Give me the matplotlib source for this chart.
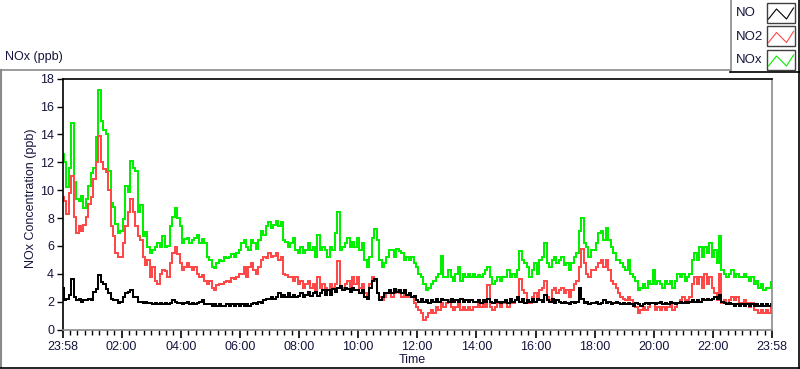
import matplotlib
matplotlib.use('Agg')
import matplotlib.pyplot as plt
from matplotlib.lines import Line2D
from matplotlib.patches import Rectangle
import numpy as np

plt.rcParams['font.family'] = ['Liberation Sans', 'DejaVu Sans']

# readings every 5 minutes from 23:58, one row per hour (ppb)
nox = [
    12.6, 12.0, 10.2, 11.6, 14.8, 10.6, 9.4, 9.2, 9.6, 8.7, 9.4, 10.3,
    11.2, 11.6, 13.8, 17.2, 15.0, 14.3, 14.0, 11.4, 9.1, 8.8, 7.6, 6.9,
    7.1, 7.9, 10.3, 9.9, 12.1, 11.6, 11.4, 8.4, 8.9, 6.7, 7.0, 5.9,
    5.5, 5.7, 5.9, 6.2, 5.9, 6.7, 5.9, 6.0, 7.4, 8.1, 8.7, 8.0,
    7.4, 6.2, 6.5, 6.6, 6.2, 6.4, 6.6, 6.8, 6.2, 6.5, 6.2, 5.2,
    5.0, 4.5, 4.4, 4.8, 5.0, 4.9, 5.2, 5.1, 5.2, 5.4, 5.2, 5.5,
    5.7, 6.2, 6.4, 5.9, 5.7, 6.4, 6.2, 5.8, 6.4, 7.1, 6.8, 7.4,
    7.7, 7.3, 7.5, 7.8, 7.4, 7.7, 6.4, 6.3, 5.9, 6.2, 6.6, 5.7,
    5.5, 5.9, 5.5, 5.7, 6.2, 5.7, 5.9, 5.2, 6.8, 5.7, 5.9, 5.7,
    5.2, 5.9, 5.7, 6.9, 8.4, 5.7, 5.9, 6.2, 6.6, 5.9, 6.3, 5.9,
    6.6, 5.7, 6.2, 5.0, 4.5, 5.2, 6.6, 7.2, 6.4, 5.0, 4.5, 4.8,
    5.2, 5.7, 5.7, 5.2, 5.8, 5.6, 5.5, 5.0, 5.2, 5.0, 5.2, 4.8,
    4.5, 4.0, 3.8, 3.3, 2.8, 3.0, 3.3, 3.5, 3.8, 4.0, 5.3, 3.8,
    3.8, 4.3, 3.8, 3.5, 4.0, 4.5, 3.5, 4.0, 3.8, 4.0, 3.8, 4.0,
    3.8, 3.9, 3.8, 4.0, 4.3, 4.5, 3.8, 3.3, 3.5, 3.8, 3.5, 3.8,
    3.8, 4.3, 3.8, 4.0, 3.8, 4.3, 5.6, 5.0, 4.8, 4.5, 3.8, 4.3,
    4.8, 4.0, 5.0, 5.2, 6.2, 4.8, 4.5, 5.0, 5.2, 4.8, 5.0, 5.2,
    4.6, 4.8, 4.3, 4.8, 5.2, 5.5, 7.1, 8.0, 6.2, 5.9, 5.2, 5.7,
    5.7, 6.2, 6.9, 7.1, 6.4, 7.3, 6.4, 5.9, 5.5, 5.0, 5.0, 4.8,
    4.5, 4.3, 5.0, 4.0, 3.8, 3.5, 2.8, 3.0, 3.3, 3.0, 3.5, 3.3,
    4.3, 3.3, 3.5, 3.3, 3.0, 3.5, 3.3, 3.5, 3.0, 3.5, 4.0, 3.8,
    4.0, 3.5, 3.8, 4.0, 5.0, 5.5, 5.0, 5.9, 5.2, 5.9, 5.5, 6.2,
    5.2, 5.7, 4.8, 6.7, 4.3, 4.0, 3.8, 4.0, 4.3, 3.8, 4.0, 3.8,
    3.8, 4.0, 3.8, 3.5, 3.8, 3.3, 3.5, 3.0, 3.3, 2.8, 3.0, 3.0,
    3.4,
]

no2 = [
    9.5, 9.2, 8.3, 9.8, 11.0, 8.1, 6.9, 7.4, 7.1, 7.5, 8.1, 9.0,
    9.5, 10.8, 12.0, 13.9, 12.0, 11.5, 11.3, 10.0, 7.4, 6.7, 5.5, 5.2,
    5.2, 6.2, 7.4, 8.4, 9.4, 8.4, 7.4, 6.7, 6.4, 5.2, 4.6, 5.0,
    3.8, 4.5, 3.5, 3.3, 4.0, 4.3, 4.2, 3.8, 4.8, 5.5, 5.9, 5.4,
    4.8, 4.3, 4.5, 4.8, 4.5, 4.3, 4.5, 4.0, 3.8, 3.9, 3.5, 3.3,
    3.5, 3.0, 2.8, 3.2, 3.3, 3.3, 3.4, 3.5, 3.4, 3.7, 3.6, 3.8,
    4.0, 4.0, 4.5, 3.8, 4.5, 4.8, 4.3, 4.0, 4.5, 5.0, 5.2, 5.1,
    5.5, 5.2, 5.3, 5.5, 5.0, 5.2, 4.0, 3.9, 3.8, 3.8, 3.5, 3.8,
    3.3, 3.5, 3.0, 3.3, 3.5, 3.0, 3.3, 2.8, 3.8, 3.0, 3.3, 3.0,
    2.8, 3.3, 3.0, 3.3, 4.9, 3.0, 3.0, 3.3, 3.5, 3.0, 3.8, 3.3,
    3.8, 3.0, 3.3, 2.6, 2.3, 3.3, 3.8, 3.5, 2.6, 2.3, 2.1, 2.3,
    2.6, 2.8, 2.3, 2.6, 2.8, 2.6, 2.3, 2.6, 2.3, 2.6, 2.3, 1.9,
    1.6, 1.4, 1.2, 0.7, 0.9, 1.2, 1.4, 1.2, 1.6, 1.4, 1.9, 1.6,
    1.9, 2.1, 1.6, 1.4, 1.6, 1.9, 1.4, 1.6, 1.4, 1.6, 1.4, 1.6,
    1.6, 1.9, 1.6, 1.9, 1.6, 3.2, 1.6, 1.4, 1.6, 1.9, 1.6, 1.9,
    2.1, 1.6, 2.1, 1.9, 2.1, 2.3, 3.6, 2.8, 2.6, 2.1, 1.9, 2.3,
    2.6, 2.1, 2.8, 3.0, 3.5, 2.3, 2.1, 2.8, 3.0, 2.6, 2.8, 3.0,
    2.6, 2.8, 2.3, 2.8, 3.3, 3.5, 4.5, 5.8, 4.8, 4.0, 3.8, 4.3,
    4.3, 4.5, 4.8, 5.0, 4.5, 5.0, 4.3, 3.5, 3.3, 3.0, 2.6, 2.3,
    2.2, 2.1, 2.3, 2.1, 1.9, 1.6, 1.2, 1.4, 1.6, 1.4, 1.6, 1.9,
    1.9, 1.4, 1.6, 1.4, 1.6, 1.4, 1.6, 1.9, 1.4, 1.6, 1.9, 2.1,
    2.3, 2.1, 2.1, 2.3, 3.3, 3.8, 3.3, 3.8, 3.0, 4.0, 3.3, 3.8,
    3.0, 2.6, 2.1, 4.0, 1.9, 2.1, 1.9, 2.1, 2.3, 2.1, 2.3, 1.9,
    1.9, 2.1, 1.9, 1.6, 1.9, 1.4, 1.4, 1.2, 1.4, 1.2, 1.4, 1.2,
    1.6,
]

no = [
    3.0, 2.1, 2.2, 2.5, 3.6, 2.3, 2.1, 2.2, 2.0, 2.1, 2.1, 2.2,
    2.1, 2.7, 2.9, 3.9, 3.4, 3.3, 2.9, 2.6, 2.2, 2.1, 2.1, 1.9,
    2.0, 2.3, 2.6, 2.7, 2.8, 2.3, 2.3, 2.0, 2.0, 1.9, 2.0, 1.9,
    1.9, 1.8, 1.9, 1.8, 1.9, 1.8, 1.9, 1.8, 1.9, 2.1, 2.0, 1.9,
    1.9, 1.8, 1.9, 2.0, 1.8, 1.9, 1.8, 1.9, 2.0, 2.1, 1.8, 1.8,
    1.8, 1.7, 1.8, 1.7, 1.8, 1.7, 1.7, 1.8, 1.7, 1.8, 1.7, 1.8,
    1.7, 1.8, 1.7, 1.8, 1.7, 1.8, 1.9, 1.8, 2.0, 1.9, 2.1, 2.2,
    2.2, 2.3, 2.2, 2.3, 2.6, 2.3, 2.5, 2.3, 2.6, 2.3, 2.5, 2.3,
    2.4, 2.6, 2.3, 2.5, 2.7, 2.4, 2.6, 2.7, 2.4, 2.6, 2.8, 2.5,
    2.8, 2.5, 2.9, 2.7, 3.0, 3.1, 2.8, 3.0, 2.9, 2.7, 3.0, 2.8,
    2.8, 2.6, 2.8, 2.3, 2.2, 3.0, 3.5, 3.6, 2.6, 2.1, 2.3, 2.6,
    2.6, 2.8, 2.6, 2.9, 2.7, 2.8, 2.6, 2.8, 2.5, 2.6, 2.3, 2.4,
    2.1, 2.0, 2.2, 2.0, 2.1, 1.9, 2.1, 2.0, 2.2, 2.0, 2.2, 2.1,
    2.1, 2.0, 2.2, 2.0, 2.1, 2.0, 2.2, 2.0, 2.1, 2.0, 2.1, 2.0,
    2.0, 2.1, 1.9, 2.1, 2.0, 2.2, 2.0, 1.9, 2.1, 2.0, 1.9, 2.0,
    2.1, 1.9, 2.2, 2.0, 2.1, 2.3, 2.0, 2.2, 1.9, 2.1, 2.0, 2.2,
    2.0, 2.2, 2.1, 2.0, 2.5, 2.1, 2.0, 2.2, 1.9, 2.1, 2.0, 1.9,
    2.0, 1.9, 1.8, 2.0, 1.9, 2.0, 3.0, 2.2, 1.9, 2.0, 1.8, 1.9,
    1.9, 2.0, 1.8, 1.9, 2.1, 1.9, 2.0, 1.8, 1.9, 2.0, 1.9, 1.8,
    1.9, 1.8, 1.9, 1.8, 1.7, 1.9, 1.8, 1.7, 1.8, 1.9, 1.8, 1.9,
    1.9, 1.8, 1.9, 2.0, 1.8, 1.9, 1.8, 2.0, 1.9, 1.8, 1.9, 2.0,
    1.9, 2.0, 1.9, 2.0, 2.1, 2.0, 2.1, 2.0, 2.2, 2.1, 2.2, 2.1,
    2.2, 2.3, 2.2, 2.5, 2.0, 1.9, 1.8, 1.9, 1.8, 1.7, 1.8, 1.7,
    1.8, 1.7, 1.8, 1.7, 1.8, 1.7, 1.8, 1.7, 1.8, 1.7, 1.8, 1.7,
    1.8,
]

time_labels = ['23:58', '02:00', '04:00', '06:00', '08:00', '10:00', '12:00',
               '14:00', '16:00', '18:00', '20:00', '22:00', '23:58']
legend_names = ['NO', 'NO2', 'NOx']

hours = np.arange(len(nox)) * 5 / 60

W, H = 800, 369
navy = '#14143c'
c_no, c_no2, c_nox = 'black', '#ff4848', '#00f000'


def fx(x):
    return x / W


def fy(y):
    return 1 - y / H


fig = plt.figure(figsize=(8, 3.69), dpi=100)

# panel frame (grey top/left, black bottom/right)
fig.add_artist(Line2D([fx(0.5), fx(730)], [fy(69.5), fy(69.5)], color='#8a8a8a', lw=1.2))
fig.add_artist(Line2D([fx(0.7), fx(0.7)], [fy(69.5), fy(367)], color='#8a8a8a', lw=1.5))
fig.add_artist(Line2D([fx(0), fx(799)], [fy(367.5), fy(367.5)], color='black', lw=1.2))
fig.add_artist(Line2D([fx(798.8), fx(798.8)], [fy(72), fy(368)], color='black', lw=1.2))

# legend box
fig.add_artist(Line2D([fx(730.5), fx(730.5)], [fy(0), fy(72)], color='#8a8a8a', lw=1.2))
fig.add_artist(Line2D([fx(730), fx(799)], [fy(72), fy(72)], color='black', lw=1.2))
fig.add_artist(Line2D([fx(798.8), fx(798.8)], [fy(0), fy(72)], color='black', lw=1.2))
for i, (name, col) in enumerate(zip(legend_names, [c_no, c_no2, c_nox])):
    y0 = 3 + i * 23.5
    fig.text(fx(736), fy(y0 + 10), name, fontsize=9.5, color=navy, va='center', ha='left')
    fig.add_artist(Rectangle((fx(767), fy(y0 + 19.5)), 28 / W, 19.5 / H,
                             transform=fig.transFigure, fill=False,
                             edgecolor='#404040', lw=1.0))
    fig.add_artist(Line2D([fx(768.5), fx(776.5), fx(786.5), fx(793.5)],
                          [fy(y0 + 16), fy(y0 + 6), fy(y0 + 16), fy(y0 + 5)],
                          color=col, lw=0.8))

fig.text(fx(5), fy(57), 'NOx (ppb)', fontsize=9, color=navy, va='center', ha='left')

ax = fig.add_axes([fx(62.5), fy(329.5), (772 - 62.5) / W, (329.5 - 78.7) / H])
ax.plot(hours, nox, color=c_nox, lw=1.1, drawstyle='steps-mid', antialiased=False)
ax.plot(hours, no2, color=c_no2, lw=1.1, drawstyle='steps-mid', antialiased=False)
ax.plot(hours, no, color=c_no, lw=1.4, drawstyle='steps-mid', antialiased=False)

ax.set_xlim(0, 24)
ax.set_ylim(0, 18)
ax.set_yticks(range(0, 19, 2))
ax.set_xticks(range(0, 25, 2))
ax.set_xticklabels(time_labels)
ax.set_xticks(np.arange(0, 24.01, 0.25), minor=True)

ax.tick_params(axis='both', labelsize=9, labelcolor=navy, color='black', direction='out')
ax.tick_params(axis='x', which='major', length=6, width=1.2, pad=2)
ax.tick_params(axis='x', which='minor', length=3.5, width=1.0)
ax.tick_params(axis='y', which='major', length=4, width=1.0, pad=2)

ax.spines['top'].set_color('black')
ax.spines['left'].set_color('black')
ax.spines['right'].set_color('#8a8a8a')
ax.spines['bottom'].set_color('#8a8a8a')
for s in ax.spines.values():
    s.set_linewidth(1.2)

fig.text(fx(31), fy(198), 'NOx Concentration (ppb)', rotation=90, fontsize=9,
         color=navy, va='center', ha='center')
fig.text(fx(412), fy(360), 'Time', fontsize=9, color=navy, va='center', ha='center')

fig.savefig('out.png', dpi=100)
